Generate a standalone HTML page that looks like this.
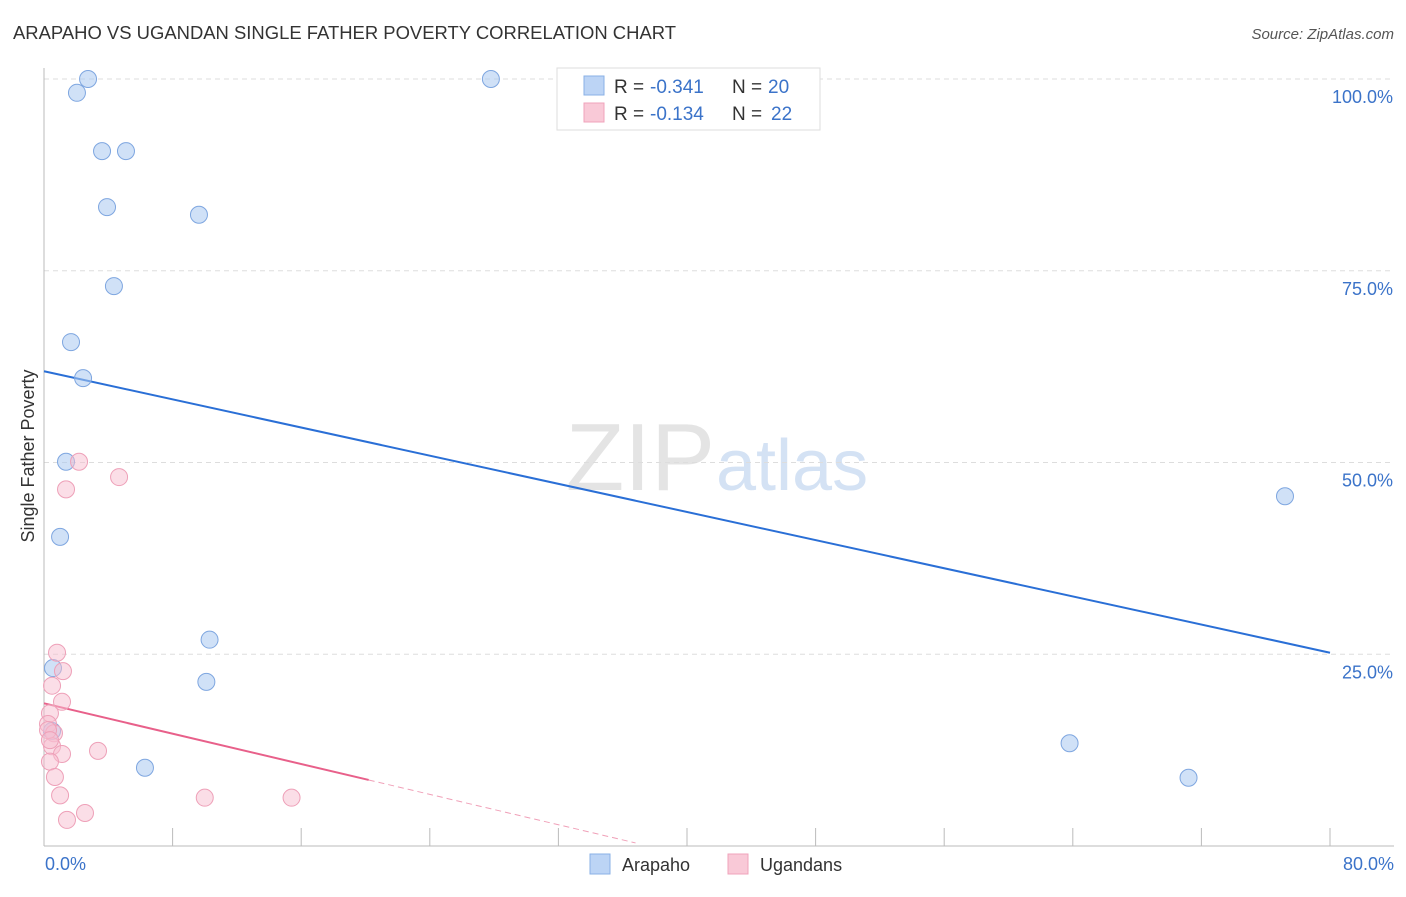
<!DOCTYPE html>
<html><head><meta charset="utf-8"><style>
body{margin:0;background:#fff;font-family:"Liberation Sans",sans-serif;}
svg text{font-family:"Liberation Sans",sans-serif;}
</style></head><body>
<svg id="chart" width="1406" height="892" xmlns="http://www.w3.org/2000/svg">
<text x="13" y="39" font-size="18" fill="#333" textLength="663" lengthAdjust="spacingAndGlyphs">ARAPAHO VS UGANDAN SINGLE FATHER POVERTY CORRELATION CHART</text>
<text x="1394" y="39" font-size="15" fill="#555" font-style="italic" text-anchor="end">Source: ZipAtlas.com</text>
<text x="715" y="490" font-size="96" fill="#e4e4e4" text-anchor="end" font-family="Liberation Serif">ZIP</text>
<text x="716" y="490" font-size="72" fill="#d4e2f4">atlas</text>
<g id="grid"></g><g id="ticks"></g>
<line x1="44" y1="68" x2="44" y2="846" stroke="#bbb"/>
<line x1="44" y1="846" x2="1394" y2="846" stroke="#bbb"/>
<text x="34" y="456" font-size="18" fill="#333" text-anchor="middle" transform="rotate(-90 34 456)">Single Father Poverty</text>
<text x="45" y="870" font-size="18" fill="#3b73c9">0.0%</text>
<text x="1394" y="870" font-size="18" fill="#3b73c9" text-anchor="end">80.0%</text>
<g id="lines"></g><g id="points"></g>
<g>
<rect x="557" y="68" width="263" height="62" fill="#fff" stroke="#ddd"/>
<rect x="584" y="76" width="20" height="19" fill="#bcd4f5" stroke="#8ab0e6"/>
<rect x="584" y="103" width="20" height="19" fill="#f9c9d7" stroke="#f0a3bb"/>
<text x="614" y="93" font-size="19" fill="#333">R =</text>
<text x="650" y="93" font-size="19" fill="#3b73c9">-0.341</text>
<text x="732" y="93" font-size="19" fill="#333">N =</text>
<text x="768" y="93" font-size="19" fill="#3b73c9">20</text>
<text x="614" y="120" font-size="19" fill="#333">R =</text>
<text x="650" y="120" font-size="19" fill="#3b73c9">-0.134</text>
<text x="732" y="120" font-size="19" fill="#333">N =</text>
<text x="771" y="120" font-size="19" fill="#3b73c9">22</text>
</g>
<g>
<rect x="590" y="854" width="20" height="20" fill="#bcd4f5" stroke="#8ab0e6"/>
<text x="622" y="871" font-size="18" fill="#333">Arapaho</text>
<rect x="728" y="854" width="20" height="20" fill="#f9c9d7" stroke="#f0a3bb"/>
<text x="760" y="871" font-size="18" fill="#333">Ugandans</text>
</g>
</svg>
<script>
const yTicks=[25,50,75,100];
const yTickLabels=["25.0%","50.0%","75.0%","100.0%"];
const xTickVals=[8,16,24,32,40,48,56,64,72,80];
const arapahoX=[2.74,2.05,27.8,3.61,5.1,3.92,9.64,4.35,1.68,2.43,1.37,77.2,1.0,10.3,0.56,10.1,0.5,63.8,6.28,71.2];
const arapahoY=[100,98.2,100,90.6,90.6,83.3,82.3,73.0,65.7,61.0,50.1,45.6,40.3,26.9,23.2,21.4,15.0,13.4,10.2,8.9];
const ugandaX=[2.18,1.37,4.67,0.81,1.18,0.5,1.12,0.37,0.25,0.62,0.5,3.36,1.12,0.37,0.68,1.0,10.0,15.4,2.55,1.43,0.25,0.37];
const ugandaY=[50.1,46.5,48.1,25.2,22.8,20.9,18.8,17.3,15.9,14.7,13.0,12.4,12.0,11.0,9.0,6.6,6.3,6.3,4.3,3.4,15.1,13.8];
const arapahoTrend=[61.9,25.2];
const ugandaTrend=[18.6,0.4];
const ugandaSolidEnd=20.2, ugandaDashEnd=36.8;
const X=v=>44+v/80*1286, Y=v=>846-v*7.67;
const NS="http://www.w3.org/2000/svg";
function mk(t,a,p){const e=document.createElementNS(NS,t);for(const k in a)e.setAttribute(k,a[k]);document.getElementById(p).appendChild(e);return e;}
yTicks.forEach((t,i)=>{
 const g=mk('line',{x1:44,x2:1394,y1:Y(t),y2:Y(t),stroke:'#ddd','stroke-dasharray':'5,4'},'grid');
 
 
 const l=mk('text',{x:1393,y:Y(t)+24,'font-size':18,fill:'#3b73c9','text-anchor':'end'},'grid');
 l.textContent=yTickLabels[i];
 
 
});
xTickVals.forEach(v=>{
 const t=mk('line',{x1:X(v),x2:X(v),y1:828,y2:846,stroke:'#bbb'},'ticks');
 
 
});
const pt=(tr,x)=>tr[0]+(tr[1]-tr[0])*x/ugandaDashEnd;
let a=mk('line',{x1:X(0),y1:Y(arapahoTrend[0]),x2:X(80),y2:Y(arapahoTrend[1]),stroke:'#2a6fd6','stroke-width':2},'lines');


let b=mk('line',{x1:X(0),y1:Y(ugandaTrend[0]),x2:X(ugandaSolidEnd),y2:Y(pt(ugandaTrend,ugandaSolidEnd)),stroke:'#e8608a','stroke-width':2},'lines');


let c=mk('line',{x1:X(ugandaSolidEnd),y1:Y(pt(ugandaTrend,ugandaSolidEnd)),x2:X(ugandaDashEnd),y2:Y(ugandaTrend[1]),stroke:'#f0a0b8','stroke-width':1,'stroke-dasharray':'6,4'},'lines');


arapahoX.forEach((x,i)=>{
 const e=mk('circle',{cx:X(x),cy:Y(arapahoY[i]),r:8.5,fill:'rgba(170,200,240,0.55)',stroke:'#7ea6e0','stroke-width':1},'points');
 
 
});
ugandaX.forEach((x,i)=>{
 const e=mk('circle',{cx:X(x),cy:Y(ugandaY[i]),r:8.5,fill:'rgba(248,190,208,0.5)',stroke:'#eea0b8','stroke-width':1},'points');
 
 
});
</script>
</body></html>
